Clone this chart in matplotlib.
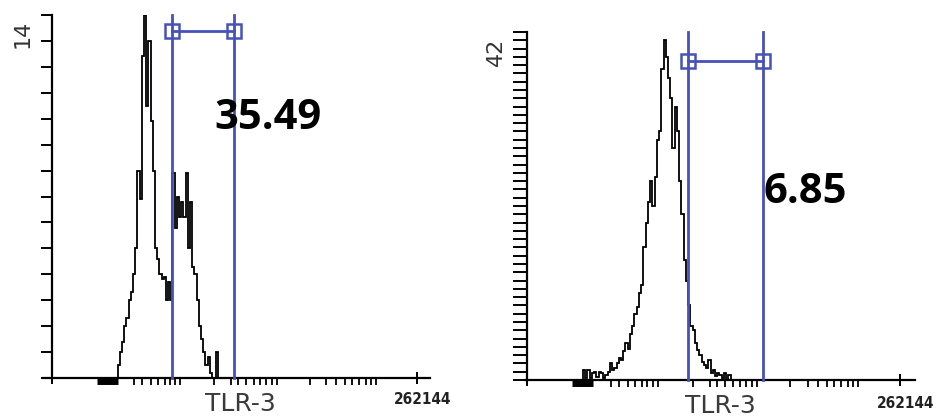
import matplotlib
matplotlib.use("Agg")
import matplotlib.pyplot as plt
import numpy as np
from matplotlib import transforms

# ---------------- data ----------------
bin_width = 6           # channel units per histogram bin
hist_start = 120        # first bin edge (channel units, 262144 tick = 1000)

left_counts = [0, 0, 0, 0, 0, 0, 0, 0, 0, 0,
               0.5, 1.0, 1.4, 2.0, 2.3, 3.0, 3.3, 4.0, 5.0, 8.0,
               6.9, 12.4, 14.0, 10.5, 13.0, 9.9, 8.0, 5.0, 4.6, 4.0,
               3.8, 3.9, 3.0, 3.7, 3.0, 7.9, 5.8, 7.0, 6.2, 6.8,
               6.2, 7.9, 5.0, 6.8, 4.3, 4.0, 3.0, 2.0, 1.5, 1.0,
               0.5, 0.8, 0.2, 0, 0, 1.0, 0]

right_counts = [0, 0, 0, 0, 0,
                1.2, 0.3, 1.2, 0.3, 0.8,
                1.0, 0.4, 1.0, 0.8, 0.3,
                0.6, 1.0, 2.0, 1.2, 1.5,
                2.0, 2.6, 2.4, 3.5, 4.5,
                3.8, 5.5, 6.5, 8.0, 8.8,
                10.5, 11.5, 16.0, 19.0, 21.5,
                24.0, 21.0, 24.5, 29.0, 30.0,
                37.5, 41.0, 39.0, 36.5, 34.0,
                28.0, 33.0, 30.0, 24.0, 20.0,
                14.5, 12.0, 9.0, 6.5, 6.0,
                4.5, 3.6, 3.0, 2.2, 1.8,
                1.4, 2.4, 0.8, 1.2, 0.5,
                0.8, 0.6, 0.3, 0.8, 0.0,
                0.6, 0.0]

left_noise = (123, 181)
right_noise = (121, 177)

left_ymax = 14
right_ymax = 42
left_gate = (329, 499)
right_gate = (432, 633)
left_gate_y = 13.4
right_gate_y = 38.5
left_pct = "35.49"
right_pct = "6.85"
left_pct_pos = (592, 10.0)
right_pct_pos = (745, 22.6)

axis_max_label = "262144"
x_title = "TLR-3"
minor_xticks = [225, 247, 271, 290, 309, 323, 337, 351,
                445, 490, 510, 531, 553, 570, 586, 603, 617,
                706, 752, 779, 803, 822, 841, 860, 875, 888]
major_xticks = [0, 1000]

BLUE = "#4652b8"
W, H = 938, 417

fig = plt.figure(figsize=(W / 100, H / 100), dpi=100)


def panel(rect_px, xlim, counts, ymax, noise, gate, gate_y, pct, pct_pos,
          ylab_px, title_px, maxlab_px, ytick_len):
    x0, y_top, x1, y_base = rect_px
    ax = fig.add_axes([x0 / W, 1 - y_base / H, (x1 - x0) / W, (y_base - y_top) / H])
    ax.set_xlim(*xlim)
    ax.set_ylim(0, ymax)
    for s in ("top", "right"):
        ax.spines[s].set_visible(False)
    ax.spines["left"].set_position(("data", 0))
    ax.spines["left"].set_linewidth(1.6)
    ax.spines["bottom"].set_linewidth(1.6)
    ax.set_yticks(range(0, ymax + 1))
    ax.tick_params(axis="y", direction="out", length=ytick_len, width=1.4,
                   labelleft=False)
    ax.set_xticks(major_xticks)
    ax.set_xticks(minor_xticks, minor=True)
    ax.tick_params(axis="x", which="major", direction="inout", length=9,
                   width=1.4, labelbottom=False)
    ax.tick_params(axis="x", which="minor", direction="out", length=5,
                   width=1.3)

    edges = hist_start + bin_width * np.arange(len(counts) + 1)
    ax.stairs(counts, edges, color="black", lw=1.3, zorder=3)

    # thick low-level noise bar at baseline
    off = transforms.offset_copy(ax.transData, fig=fig, y=-3, units="dots")
    ax.plot(list(noise), [0, 0], color="black", lw=5, solid_capstyle="butt",
            transform=off, clip_on=False, zorder=4)

    # gate
    for g in gate:
        ax.plot([g, g], [0, ymax], color=BLUE, lw=2, zorder=4, clip_on=False)
    ax.plot(list(gate), [gate_y, gate_y], color=BLUE, lw=2, marker="s",
            mfc="none", mec=BLUE, ms=10, mew=1.8, zorder=5, clip_on=False)

    ax.text(pct_pos[0], pct_pos[1], pct, ha="center", va="center",
            fontsize=30, fontweight="bold", family=["Open Sans", "DejaVu Sans"],
            color="black", zorder=6)

    fig.text(ylab_px[0] / W, 1 - ylab_px[1] / H, str(ymax), rotation=90,
             ha="center", va="center", fontsize=16, color="#333333")
    fig.text(title_px[0] / W, 1 - title_px[1] / H, x_title, ha="center",
             va="center", fontsize=18, color="#3a3a3a")
    fig.text(maxlab_px[0] / W, 1 - maxlab_px[1] / H, axis_max_label,
             ha="center", va="center", fontsize=11, fontweight="bold",
             color="#222222", fontstretch="condensed")
    return ax


panel((43, 15, 430, 378), (-24.7, 1035.6), left_counts, left_ymax,
      left_noise, left_gate, left_gate_y, left_pct, left_pct_pos,
      (23, 34), (240, 404), (423, 399), 8)
panel((525, 32, 915, 380), (-5.4, 1040.2), right_counts, right_ymax,
      right_noise, right_gate, right_gate_y, right_pct, right_pct_pos,
      (496, 52), (720, 406), (906, 403), 10)

fig.savefig("out.png", dpi=100)
